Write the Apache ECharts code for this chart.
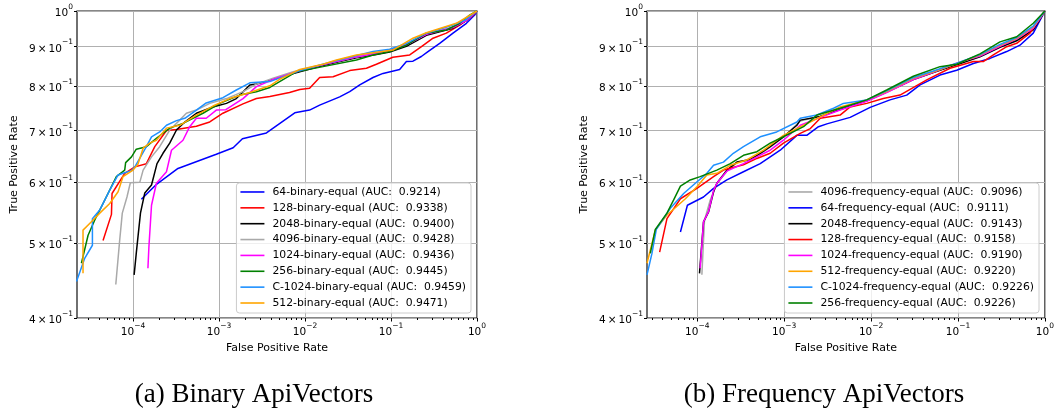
<!DOCTYPE html>
<html>
<head>
<meta charset="utf-8">
<script src="https://cdn.jsdelivr.net/npm/echarts@6/dist/echarts.min.js"></script>
<style>
  html, body { margin: 0; padding: 0; background: #fff; }
  #chart { width: 1057px; height: 409px; }
</style>
</head>
<body>
<div id="chart"></div>
<script>
// ---- data: [false positive rate, true positive rate] ----
const binNames = ['64-binary-equal', '128-binary-equal', '2048-binary-equal', '4096-binary-equal',
  '1024-binary-equal', '256-binary-equal', 'C-1024-binary-equal', '512-binary-equal']
const binAuc = ['0.9214', '0.9338', '0.9400', '0.9428', '0.9436', '0.9445', '0.9459', '0.9471']

const freqNames = ['4096-frequency-equal', '64-frequency-equal', '2048-frequency-equal', '128-frequency-equal',
  '1024-frequency-equal', '512-frequency-equal', 'C-1024-frequency-equal', '256-frequency-equal']
const freqAuc = ['0.9096', '0.9111', '0.9143', '0.9158', '0.9190', '0.9220', '0.9226', '0.9226']

const colors = ['#0000ff', '#ff0000', '#000000', '#a9a9a9', '#ff00ff', '#008000', '#1e90ff', '#ffa500']
const freqColors = ['#a9a9a9', '#0000ff', '#000000', '#ff0000', '#ff00ff', '#ffa500', '#1e90ff', '#008000']

const bin64 = [[1.25e-4,0.570],[1.84e-4,0.595],[3.33e-4,0.625],[9.3e-4,0.652],[1.46e-3,0.665],[1.87e-3,0.683],
  [3.56e-3,0.695],[7.6e-3,0.738],[1.13e-2,0.744],[1.48e-2,0.755],[2.53e-2,0.774],[3.31e-2,0.786],[4.33e-2,0.802],
  [6.18e-2,0.82],[8.07e-2,0.83],[0.126,0.84],[0.151,0.86],[0.18,0.861],[0.225,0.873],[0.269,0.886],[0.368,0.908],
  [0.526,0.936],[0.753,0.964],[0.94,0.988],[1,1]]
const bin128 = [[4.48e-5,0.504],[5.61e-5,0.545],[5.7e-5,0.58],[8.0e-5,0.616],[1.05e-4,0.628],[1.43e-4,0.634],
  [1.79e-4,0.667],[2.45e-4,0.70],[3.2e-4,0.702],[5.45e-4,0.709],[7.8e-4,0.718],[1.11e-3,0.737],[1.9e-3,0.758],
  [2.72e-3,0.77],[3.9e-3,0.775],[6.6e-3,0.784],[8.7e-3,0.791],[1.13e-2,0.794],[1.48e-2,0.82],[2.12e-2,0.822],
  [3.31e-2,0.837],[5.18e-2,0.843],[6.76e-2,0.853],[0.105,0.871],[0.165,0.877],[0.226,0.899],[0.308,0.922],
  [0.44,0.936],[0.63,0.959],[0.88,0.985],[1,1]]
const bin2048 = [[1.03e-4,0.455],[1.09e-4,0.485],[1.22e-4,0.547],[1.37e-4,0.581],[1.64e-4,0.595],[1.9e-4,0.634],
  [2.23e-4,0.654],[2.67e-4,0.674],[3.2e-4,0.701],[4.0e-4,0.718],[5.45e-4,0.737],[8.5e-4,0.751],[1.22e-3,0.759],
  [1.59e-3,0.77],[2.28e-3,0.802],[2.72e-3,0.804],[4.25e-3,0.815],[7.3e-3,0.83],[1.62e-2,0.85],[2.53e-2,0.86],
  [3.96e-2,0.87],[6.76e-2,0.878],[0.0965,0.885],[0.151,0.9],[0.258,0.93],[0.368,0.94],[0.526,0.95],[0.753,0.972],[1,1]]
const bin4096 = [[6.3e-5,0.442],[7.0e-5,0.505],[7.5e-5,0.547],[8.5e-5,0.574],[9.3e-5,0.599],[1.2e-4,0.60],
  [1.31e-4,0.622],[1.64e-4,0.647],[2.04e-4,0.667],[2.67e-4,0.701],[3.49e-4,0.722],[4.17e-4,0.737],[5.45e-4,0.744],
  [7.8e-4,0.759],[1.22e-3,0.77],[1.9e-3,0.786],[2.72e-3,0.804],[4.25e-3,0.818],[7.3e-3,0.834],[1.62e-2,0.853],
  [2.53e-2,0.862],[3.96e-2,0.872],[6.76e-2,0.882],[0.0965,0.889],[0.151,0.905],[0.258,0.934],[0.526,0.953],[0.753,0.974],[1,1]]
const bin1024 = [[1.49e-4,0.464],[1.53e-4,0.495],[1.64e-4,0.56],[1.87e-4,0.598],[2.45e-4,0.619],[2.8e-4,0.66],
  [3.81e-4,0.68],[4.56e-4,0.708],[5.45e-4,0.726],[7.1e-4,0.726],[9.3e-4,0.744],[1.2e-3,0.745],[1.9e-3,0.77],
  [2.72e-3,0.798],[4.25e-3,0.815],[7.3e-3,0.832],[1.62e-2,0.852],[2.53e-2,0.862],[3.96e-2,0.872],[6.76e-2,0.881],
  [0.0965,0.888],[0.151,0.904],[0.258,0.933],[0.526,0.952],[0.753,0.972],[1,1]]
const bin256 = [[2.51e-5,0.471],[3.0e-5,0.512],[3.59e-5,0.536],[4.48e-5,0.563],[6.4e-5,0.61],[8.0e-5,0.622],
  [8.2e-5,0.636],[9.6e-5,0.647],[1.09e-4,0.662],[1.43e-4,0.667],[1.87e-4,0.684],[2.67e-4,0.705],[3.81e-4,0.715],
  [6.5e-4,0.737],[1.02e-3,0.759],[1.74e-3,0.778],[2.72e-3,0.786],[3.9e-3,0.796],[7.9e-3,0.834],[1.62e-2,0.847],
  [3.96e-2,0.864],[6.18e-2,0.877],[0.0965,0.886],[0.151,0.903],[0.258,0.936],[0.44,0.945],[0.63,0.964],[0.82,0.988],[1,1]]
const binC1024 = [[2.2e-5,0.446],[2.74e-5,0.478],[3.37e-5,0.497],[3.37e-5,0.538],[4.1e-5,0.552],[5.36e-5,0.586],
  [6.7e-5,0.613],[7.65e-5,0.616],[9.6e-5,0.621],[1.05e-4,0.628],[1.43e-4,0.667],[1.64e-4,0.687],[2.04e-4,0.697],
  [2.45e-4,0.711],[3.2e-4,0.721],[4.0e-4,0.726],[5.45e-4,0.744],[7.1e-4,0.76],[1.11e-3,0.772],[1.59e-3,0.79],
  [2.28e-3,0.807],[3.9e-3,0.81],[8.7e-3,0.837],[2.12e-2,0.86],[6.18e-2,0.886],[0.0965,0.892],[0.151,0.908],
  [0.258,0.936],[0.368,0.947],[0.526,0.959],[0.75,0.975],[1,1]]
const bin512 = [[2.62e-5,0.457],[2.62e-5,0.52],[3.28e-5,0.533],[4.1e-5,0.547],[5.36e-5,0.563],[6.7e-5,0.583],
  [7.65e-5,0.61],[1.0e-4,0.622],[1.14e-4,0.633],[1.31e-4,0.664],[1.56e-4,0.674],[1.87e-4,0.68],[2.45e-4,0.705],
  [3.49e-4,0.711],[5.45e-4,0.733],[8.5e-4,0.753],[1.33e-3,0.77],[2.28e-3,0.784],[3.9e-3,0.80],[5.0e-3,0.815],
  [8.7e-3,0.84],[1.62e-2,0.853],[2.32e-2,0.864],[3.96e-2,0.877],[6.18e-2,0.883],[0.105,0.89],[0.18,0.922],
  [0.258,0.937],[0.575,0.964],[1,1]]

const freq4096 = [[1.13e-4,0.455],[1.21e-4,0.535],[1.41e-4,0.569],[1.68e-4,0.597],[2.19e-4,0.62],[2.86e-4,0.636],
  [4.07e-4,0.641],[5.3e-4,0.653],[6.9e-4,0.666],[9.8e-4,0.686],[1.53e-3,0.72],[2.6e-3,0.731],[4.4e-3,0.746],
  [8.9e-3,0.766],[1.51e-2,0.785],[3.06e-2,0.816],[5.2e-2,0.833],[9.66e-2,0.853],[0.179,0.874],[0.304,0.9],
  [0.473,0.918],[0.734,0.948],[1,1]]
const freq64 = [[6.4e-5,0.517],[7.7e-5,0.56],[1.18e-4,0.574],[1.54e-4,0.589],[2.19e-4,0.604],[3.4e-4,0.619],
  [5.3e-4,0.634],[9.0e-4,0.66],[1.4e-3,0.69],[1.82e-3,0.69],[2.48e-3,0.708],[3.1e-3,0.714],[5.74e-3,0.728],
  [9.75e-3,0.75],[1.65e-2,0.767],[2.57e-2,0.778],[3.66e-2,0.802],[6.21e-2,0.826],[9.66e-2,0.838],[0.15,0.855],
  [0.233,0.868],[0.363,0.886],[0.516,0.903],[0.734,0.936],[1,1]]
const freq2048 = [[1.06e-4,0.457],[1.18e-4,0.533],[1.35e-4,0.549],[1.54e-4,0.583],[1.68e-4,0.598],[2.19e-4,0.622],
  [2.86e-4,0.637],[4.07e-4,0.642],[5.3e-4,0.654],[6.9e-4,0.667],[9.8e-4,0.687],[1.4e-3,0.711],[1.53e-3,0.722],
  [2.6e-3,0.73],[4.4e-3,0.745],[8.9e-3,0.765],[1.51e-2,0.785],[3.06e-2,0.815],[5.2e-2,0.832],[9.66e-2,0.852],
  [0.179,0.872],[0.304,0.897],[0.473,0.915],[0.734,0.945],[1,1]]
const freq128 = [[3.69e-5,0.487],[4.48e-5,0.538],[6.4e-5,0.571],[9.9e-5,0.589],[1.54e-4,0.61],[2.0e-4,0.622],
  [3.4e-4,0.632],[4.85e-4,0.644],[6.9e-4,0.654],[9.8e-4,0.674],[1.53e-3,0.694],[2.0e-3,0.704],[2.6e-3,0.726],
  [4.4e-3,0.733],[5.74e-3,0.751],[8.9e-3,0.759],[1.38e-2,0.77],[2.15e-2,0.778],[4.37e-2,0.814],[8.09e-2,0.843],
  [0.15,0.86],[0.195,0.86],[0.255,0.877],[0.363,0.899],[0.473,0.908],[0.673,0.936],[1,1]]
const freq1024 = [[1.08e-4,0.464],[1.18e-4,0.533],[1.35e-4,0.55],[1.54e-4,0.585],[1.68e-4,0.598],[2.19e-4,0.62],
  [3.4e-4,0.634],[4.85e-4,0.647],[6.9e-4,0.66],[9.8e-4,0.68],[1.53e-3,0.711],[2.6e-3,0.728],[4.4e-3,0.744],
  [8.9e-3,0.764],[1.51e-2,0.784],[3.06e-2,0.815],[5.2e-2,0.833],[9.66e-2,0.856],[0.179,0.874],[0.304,0.9],
  [0.473,0.92],[0.734,0.95],[1,1]]
const freq512 = [[2.64e-5,0.471],[3.29e-5,0.52],[4.48e-5,0.544],[5.8e-5,0.558],[7.3e-5,0.571],[9.9e-5,0.592],
  [1.29e-4,0.613],[1.68e-4,0.616],[2.4e-4,0.631],[3.7e-4,0.641],[5.8e-4,0.66],[9.8e-4,0.69],[1.67e-3,0.711],
  [1.99e-3,0.718],[4.4e-3,0.751],[8.9e-3,0.767],[1.51e-2,0.786],[3.06e-2,0.818],[5.2e-2,0.834],[9.66e-2,0.855],
  [0.179,0.877],[0.304,0.903],[0.473,0.922],[0.734,0.954],[1,1]]
const freqC1024 = [[2.64e-5,0.455],[3.01e-5,0.485],[3.38e-5,0.521],[4.9e-5,0.555],[6.97e-5,0.58],[9.5e-5,0.598],
  [1.29e-4,0.616],[1.54e-4,0.631],[2.0e-4,0.637],[2.6e-4,0.654],[3.4e-4,0.667],[5.3e-4,0.687],[8.2e-4,0.697],
  [1.4e-3,0.718],[1.53e-3,0.726],[2.37e-3,0.733],[3.7e-3,0.748],[4.8e-3,0.759],[8.9e-3,0.767],[1.51e-2,0.788],
  [3.06e-2,0.82],[5.2e-2,0.836],[9.66e-2,0.856],[0.179,0.878],[0.304,0.905],[0.473,0.924],[0.734,0.956],[1,1]]
const freq256 = [[2.88e-5,0.485],[3.29e-5,0.521],[4.48e-5,0.547],[5.35e-5,0.569],[6.4e-5,0.593],[8.3e-5,0.604],
  [1.08e-4,0.61],[1.68e-4,0.622],[2.4e-4,0.634],[3.4e-4,0.65],[4.85e-4,0.657],[6.9e-4,0.674],[9.8e-4,0.687],
  [1.67e-3,0.708],[2.38e-3,0.733],[4.4e-3,0.748],[8.9e-3,0.767],[1.51e-2,0.79],[3.06e-2,0.823],[6.21e-2,0.847],
  [9.66e-2,0.853],[0.179,0.88],[0.304,0.912],[0.473,0.926],[0.734,0.964],[1,1]]

const binCurves = [bin64, bin128, bin2048, bin4096, bin1024, bin256, binC1024, bin512]
const freqCurves = [freq4096, freq64, freq2048, freq128, freq1024, freq512, freqC1024, freq256]

const xMajor = [1e-4, 1e-3, 1e-2, 1e-1, 1]
const yTicks = [0.4, 0.5, 0.6, 0.7, 0.8, 0.9, 1]

// minor tick positions 2..9 x 10^k for the x axes
const xMinor = []
for (let e = -5; e < 0; e++) {
  for (let m = 2; m <= 9; m++) xMinor.push(m * Math.pow(10, e))
}

const FONT = 'DejaVu Sans'
const sup = {
  b: { fontFamily: FONT, fontSize: 10.5, color: '#000', lineHeight: 16, verticalAlign: 'bottom' },
  s: { fontFamily: FONT, fontSize: 7.5, color: '#000', lineHeight: 9, verticalAlign: 'top' }
}

function expLabel(v) {
  const e = Math.round(Math.log10(v))
  return '{b|10}{s|' + (e < 0 ? '\u2212' + (-e) : e) + '}'
}
function yLabel(v) {
  if (Math.abs(v - 1) < 1e-9) return '{b|10}{s|0}'
  return '{b|' + Math.round(v * 10) + '\u2009\u00d7\u200910}{s|\u22121}'
}

const grids = [
  { left: 77, top: 11, width: 400, height: 307, xmin: 2.23e-5 },
  { left: 647, top: 11, width: 398, height: 307, xmin: 2.64e-5 }
]

function mainX(i) {
  return {
    type: 'log', logBase: 10, gridIndex: i, min: grids[i].xmin, max: 1,
    position: 'bottom',
    name: 'False Positive Rate', nameLocation: 'middle', nameGap: 23,
    nameTextStyle: { fontFamily: FONT, fontSize: 11, color: '#000' },
    axisLine: { show: false, onZero: false },
    axisTick: { customValues: xMajor, length: 3.5, lineStyle: { color: '#000' } },
    axisLabel: { customValues: xMajor, formatter: expLabel, rich: sup, margin: 4 },
    splitLine: { show: true, lineStyle: { color: '#b0b0b0', width: 1 } }
  }
}
function minorX(i) {
  return {
    type: 'log', logBase: 10, gridIndex: i, min: grids[i].xmin, max: 1,
    position: 'bottom',
    axisLine: { show: false, onZero: false },
    axisTick: { customValues: xMinor, length: 2, lineStyle: { color: '#000' } },
    axisLabel: { show: false },
    splitLine: { show: false }
  }
}
function mainY(i) {
  return {
    type: 'log', logBase: 10, gridIndex: i, min: 0.4, max: 1,
    name: 'True Positive Rate', nameLocation: 'middle', nameGap: 57,
    nameTextStyle: { fontFamily: FONT, fontSize: 11, color: '#000' },
    axisLine: { show: false },
    axisTick: { customValues: yTicks, length: 3, lineStyle: { color: '#000' } },
    axisLabel: { customValues: yTicks, formatter: yLabel, rich: sup, margin: 4 },
    splitLine: { show: true, lineStyle: { color: '#b0b0b0', width: 1 } }
  }
}

function buildSeries(names, aucs, curves, cols, gi) {
  return names.map((n, k) => ({
    type: 'line',
    name: n + ' (AUC:  ' + aucs[k] + ')',
    xAxisIndex: gi * 2, yAxisIndex: gi,
    data: curves[k],
    showSymbol: false, symbol: 'none',
    color: cols[k],
    lineStyle: { width: 1.5, color: cols[k] },
    z: 2 + k
  }))
}

const binSeries = buildSeries(binNames, binAuc, binCurves, colors, 0)
const freqSeries = buildSeries(freqNames, freqAuc, freqCurves, freqColors, 1)

function legend(series, right) {
  return {
    orient: 'vertical', right: right, bottom: 96,
    data: series.map(s => s.name),
    icon: 'rect', itemWidth: 24, itemHeight: 1.6, itemGap: 3.86,
    padding: [3, 5, 4, 4],
    backgroundColor: 'rgba(255,255,255,0.8)',
    borderColor: '#cccccc', borderWidth: 1, borderRadius: 3,
    textStyle: { fontFamily: FONT, fontSize: 10.8, color: '#000', lineHeight: 12, padding: [0, 0, 0, 3] },
    selectedMode: false
  }
}

const chart = echarts.init(document.getElementById('chart'), null, { renderer: 'canvas' })
chart.setOption({
  animation: false,
  backgroundColor: '#fff',
  title: [
    { text: '(a) Binary ApiVectors', left: 249, top: 376, textAlign: 'center',
      textStyle: { fontFamily: 'Liberation Serif', fontSize: 27, fontWeight: 'normal', color: '#000' } },
    { text: '(b) Frequency ApiVectors', left: 819, top: 376, textAlign: 'center',
      textStyle: { fontFamily: 'Liberation Serif', fontSize: 27, fontWeight: 'normal', color: '#000' } }
  ],
  grid: grids.map(g => ({ left: g.left, top: g.top, width: g.width, height: g.height,
    show: true, borderColor: '#111', borderWidth: 1.2, backgroundColor: 'transparent' })),
  xAxis: [mainX(0), minorX(0), mainX(1), minorX(1)],
  yAxis: [mainY(0), mainY(1)],
  legend: [legend(binSeries, 586), legend(freqSeries, 18)],
  series: binSeries.concat(freqSeries)
})
</script>
</body>
</html>
